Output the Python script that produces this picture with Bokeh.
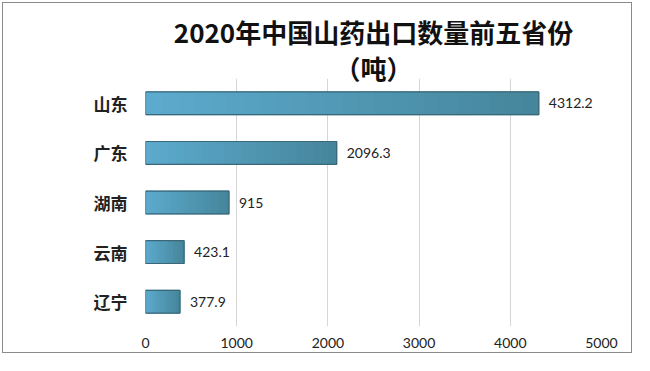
from bokeh.plotting import figure
from bokeh.models import ColumnDataSource, Title, FixedTicker
from bokeh.core.properties import value
from bokeh.embed import file_html
from bokeh.resources import INLINE

provinces = ["山东", "广东", "湖南", "云南", "辽宁"]
amounts = [4312.2, 2096.3, 915, 423.1, 377.9]
amount_labels = ["4312.2", "2096.3", "915", "423.1", "377.9"]
x_ticks = [0, 1000, 2000, 3000, 4000, 5000]
title_line1 = "2020年中国山药出口数量前五省份"
title_line2 = "（吨）"

src = ColumnDataSource(dict(prov=provinces, amt=amounts, lab=amount_labels))

# gradient pieces of each bar (left light -> right dark), derived from the data
n_steps = 24
c0 = (92, 170, 205)
c1 = (70, 134, 156)
seg_y, seg_l, seg_r, seg_c = [], [], [], []
for prov, amt in zip(provinces, amounts):
    for i in range(n_steps):
        f = i / (n_steps - 1)
        col = "#%02x%02x%02x" % tuple(int(round(a + (b - a) * f)) for a, b in zip(c0, c1))
        seg_y.append(prov)
        seg_l.append(amt * i / n_steps)
        seg_r.append(amt * (i + 1) / n_steps)
        seg_c.append(col)
seg_src = ColumnDataSource(dict(y=seg_y, left=seg_l, right=seg_r, color=seg_c))

p = figure(width=634, height=355, y_range=list(reversed(provinces)),
           x_range=(0, 5000), output_backend="svg", toolbar_location=None,
           min_border_left=145, min_border_right=33, min_border_top=78,
           min_border_bottom=29)
p.styles = {"outline": "1.5px solid #8a8a8a", "outline-offset": "-3px"}
p.background_fill_color = "white"
p.border_fill_alpha = 0
p.outline_line_color = None

t2 = Title(text=title_line2, align="center", offset=-35, text_font_size="26px",
           text_font="Noto Sans CJK SC", text_font_style="bold", text_color="#111111",
           standoff=-14)
t1 = Title(text=title_line1, align="center", offset=-35, text_font_size="26px",
           text_font="Noto Sans CJK SC", text_font_style="bold", text_color="#111111",
           standoff=8)
p.add_layout(t2, "above")
p.add_layout(t1, "above")

p.hbar(y="y", left="left", right="right", height=0.46, source=seg_src,
       fill_color="color", line_color="color", line_width=1)
p.hbar(y="prov", right="amt", left=0, height=0.46, source=src,
       fill_alpha=0, line_color="#3a6878", line_width=1.2)
p.text(x="amt", y="prov", text="lab", source=src, x_offset=10,
       text_baseline="middle", text_align="left", text_font_size="14px",
       text_font=value("Lato"), text_color="#222222")

p.xaxis.ticker = FixedTicker(ticks=x_ticks)
p.xaxis.axis_line_color = None
p.xaxis.major_tick_line_color = None
p.xaxis.minor_tick_line_color = None
p.xaxis.major_label_text_font = "Lato"
p.xaxis.major_label_text_font_size = "14px"
p.xaxis.major_label_text_color = "#222222"
p.xaxis.major_label_standoff = 5

p.yaxis.axis_line_color = None
p.yaxis.major_tick_line_color = None
p.yaxis.major_label_text_font = "Noto Sans CJK SC"
p.yaxis.major_label_text_font_style = "bold"
p.yaxis.major_label_text_font_size = "17px"
p.yaxis.major_label_text_color = "#222222"
p.yaxis.major_label_standoff = 12

p.xgrid.grid_line_color = "#d6d6d6"
p.ygrid.grid_line_color = None

open("out.html", "w").write(file_html(p, INLINE))
